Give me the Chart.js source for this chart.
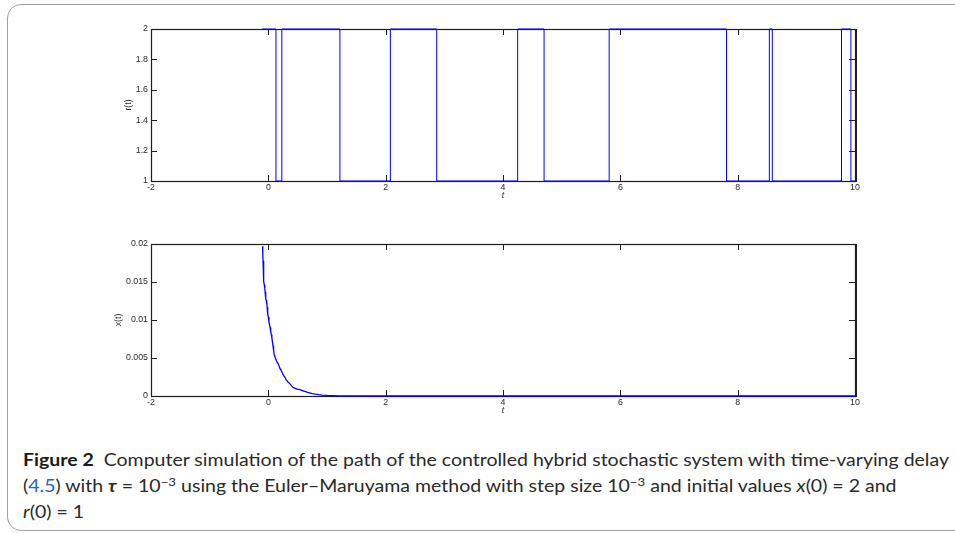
<!DOCTYPE html>
<html>
<head>
<meta charset="utf-8">
<script src="https://cdn.jsdelivr.net/npm/chart.js@4.4.1/dist/chart.umd.min.js"></script>
<style>
html,body{margin:0;padding:0;background:#fff;}
body{width:955px;height:533px;overflow:hidden;position:relative;}
#frame{position:absolute;left:7px;top:4px;width:990px;height:527px;border:1px solid #a0a0a0;border-radius:14px;box-sizing:border-box;}
.cv{position:absolute;left:0;}
#c1{top:0;}
#c2{top:215px;}
#cap{position:absolute;left:22.5px;top:447px;font-family:Lato,"Open Sans",sans-serif;font-size:17.3px;line-height:26px;white-space:nowrap;transform-origin:0 0;color:#2a2a2a;}
#cap b.fig{font-weight:700;color:#1a1a1a;}
#cap .lnk{color:#2f5fc0;}
#cap sup{font-size:0.68em;line-height:0;vertical-align:0.5em;}
</style>
</head>
<body>
<div id="frame"></div>
<canvas id="c1" class="cv" width="955" height="201"></canvas>
<canvas id="c2" class="cv" width="955" height="201"></canvas>
<div id="cap">
<div id="l1"><b class="fig">Figure 2</b>&nbsp; Computer simulation of the path of the controlled hybrid stochastic system with time-varying delay</div>
<div id="l2">(<span class="lnk">4.5</span>) with <b><i>τ</i></b> = 10<sup>−3</sup> using the Euler–Maruyama method with step size 10<sup>−3</sup> and initial values <i>x</i>(0) = 2 and</div>
<div id="l3"><i>r</i>(0) = 1</div>
</div>
<script>
// ---- data ----
const xTickValues = [-2, 0, 2, 4, 6, 8, 10];
const xTickLabels = ['-2', '0', '2', '4', '6', '8', '10'];
const rTickValues = [1, 1.2, 1.4, 1.6, 1.8, 2];
const rTickLabels = ['1', '1.2', '1.4', '1.6', '1.8', '2'];
const xtTickValues = [0, 0.005, 0.01, 0.015, 0.02];
const xtTickLabels = ['0', '0.005', '0.01', '0.015', '0.02'];

// Markov chain r(t): switching times and the state held from each time
const switchTimes = [-0.1, 0.13, 0.23, 1.22, 2.08, 2.87, 4.25, 4.70, 5.81, 7.81, 8.54, 8.59, 9.77, 9.93, 10];
const rStates     = [2, 1, 2, 1, 2, 1, 2, 1, 2, 1, 2, 1, 2, 1, 1];

// state path x(t)
const xTimes = [-0.098,-0.096,-0.094,-0.09,-0.085,-0.08,-0.075,-0.068,-0.06,-0.055,-0.048,-0.042,-0.036,-0.03,-0.026,-0.02,-0.015,-0.008,0,0.01,0.02,0.03,0.04,0.05,0.06,0.07,0.08,0.09,0.1,0.11,0.125,0.14,0.155,0.17,0.185,0.2,0.215,0.23,0.245,0.26,0.28,0.3,0.32,0.34,0.37,0.4,0.43,0.46,0.49,0.52,0.55,0.58,0.62,0.66,0.7,0.75,0.8,0.86,0.92,1.0,1.1,1.2,1.35,1.5,1.75,2,2.5,3,4,5,6,7,8,9,10];
const xValues = [0.0197,0.0192,0.0186,0.0178,0.0169,0.0160,0.0151,0.0146,0.0141,0.0137,0.0133,0.0128,0.0126,0.0121,0.0124,0.0117,0.0113,0.0108,0.0104,0.0098,0.0094,0.0090,0.0085,0.0081,0.0077,0.0071,0.0066,0.0060,0.0054,0.0052,0.0049,0.0046,0.0044,0.0042,0.0039,0.0036,0.0034,0.0032,0.0029,0.0027,0.0025,0.0022,0.0020,0.0018,0.0016,0.0013,0.0011,0.0010,0.0009,0.00088,0.00080,0.00072,0.00060,0.00050,0.00042,0.00032,0.00024,0.00017,0.00012,0.00007,0.00004,0.00002,0.00001,0.000005,0.000002,0.000001,0,0,0,0,0,0,0,0,0];

// ---- drawing ----
const FONT = 'Liberation Sans, Arial, Helvetica, sans-serif';
const TXT = '#2a2a2a';
const FS = 8.8;

const boxPlugin = {
  id: 'matlabBox',
  beforeDatasetsDraw(chart) {
    const {ctx, chartArea: a, scales: {x, y}} = chart;
    ctx.save();
    ctx.strokeStyle = '#1e1e1e';
    ctx.lineWidth = 1;
    ctx.beginPath();
    const TL = 6;
    x.ticks.forEach(t => {
      const px = Math.round(x.getPixelForValue(t.value)) + 0.5;
      ctx.moveTo(px, a.bottom); ctx.lineTo(px, a.bottom - TL);
      ctx.moveTo(px, a.top); ctx.lineTo(px, a.top + TL);
    });
    y.ticks.forEach(t => {
      const py = Math.round(y.getPixelForValue(t.value)) + 0.5;
      ctx.moveTo(a.left, py); ctx.lineTo(a.left + TL, py);
      ctx.moveTo(a.right, py); ctx.lineTo(a.right - TL, py);
    });
    ctx.stroke();
    ctx.lineWidth = 1.2;
    ctx.strokeRect(a.left + 0.5, a.top + 0.5, a.right - a.left, a.bottom - a.top);
    ctx.lineWidth = 2;
    ctx.beginPath();
    ctx.moveTo(a.right + 1, a.top); ctx.lineTo(a.right + 1, a.bottom + 1);
    ctx.stroke();
    ctx.restore();
  }
};

function makeChart(id, leftPad, yMin, yMax, yVals, yLabels, yTitle, dataset) {
  return new Chart(document.getElementById(id), {
    type: 'line',
    data: {datasets: [dataset]},
    plugins: [boxPlugin],
    options: {
      responsive: false,
      animation: false,
      devicePixelRatio: 1,
      layout: {padding: {left: leftPad, right: 100, top: 29, bottom: 0}},
      plugins: {legend: {display: false}, tooltip: {enabled: false}},
      elements: {point: {radius: 0}, line: {tension: 0}},
      scales: {
        x: {
          type: 'linear', min: -2, max: 10,
          afterBuildTicks: s => { s.ticks = xTickValues.map(v => ({value: v})); },
          afterFit: s => { s.height = 20; },
          grid: {display: false, drawTicks: false},
          border: {display: false},
          ticks: {padding: 1.5, autoSkip: false, maxRotation: 0, color: TXT,
                  font: {family: FONT, size: FS},
                  callback: (v, i) => xTickLabels[i]},
          title: {display: true, text: 't', color: TXT, padding: 0,
                  font: {family: FONT, size: FS, style: 'italic'}}
        },
        y: {
          type: 'linear', min: yMin, max: yMax,
          afterBuildTicks: s => { s.ticks = yVals.map(v => ({value: v})); },
          afterFit: s => { s.width = 151 - leftPad; },
          grid: {display: false, drawTicks: false},
          border: {display: false},
          ticks: {padding: 3, autoSkip: false, color: TXT,
                  font: {family: FONT, size: FS},
                  callback: (v, i) => yLabels[i]},
          title: {display: true, text: yTitle, color: TXT, padding: 0,
                  font: {family: FONT, size: FS}}
        }
      }
    }
  });
}

makeChart('c1', 123, 1, 2, rTickValues, rTickLabels, 'r(t)', {
  data: switchTimes.map((t, i) => ({x: t, y: rStates[i]})),
  borderColor: '#0000ff', borderWidth: 1, stepped: 'before', fill: false, clip: false
});

makeChart('c2', 113.7, 0, 0.02, xtTickValues, xtTickLabels, 'x(t)', {
  data: xTimes.map((t, i) => ({x: t, y: xValues[i]})),
  borderColor: '#0000ff', borderWidth: 1.3, fill: false, clip: false
});

// fit caption's first line to the reference width
(function fitCaption() {
  const cap = document.getElementById('cap');
  const l1 = document.getElementById('l1');
  const range = document.createRange();
  range.selectNodeContents(l1);
  const tw = range.getBoundingClientRect().width;
  const s = 926 / tw;
  cap.style.transform = 'scaleX(' + s.toFixed(4) + ')';
})();
</script>
</body>
</html>
